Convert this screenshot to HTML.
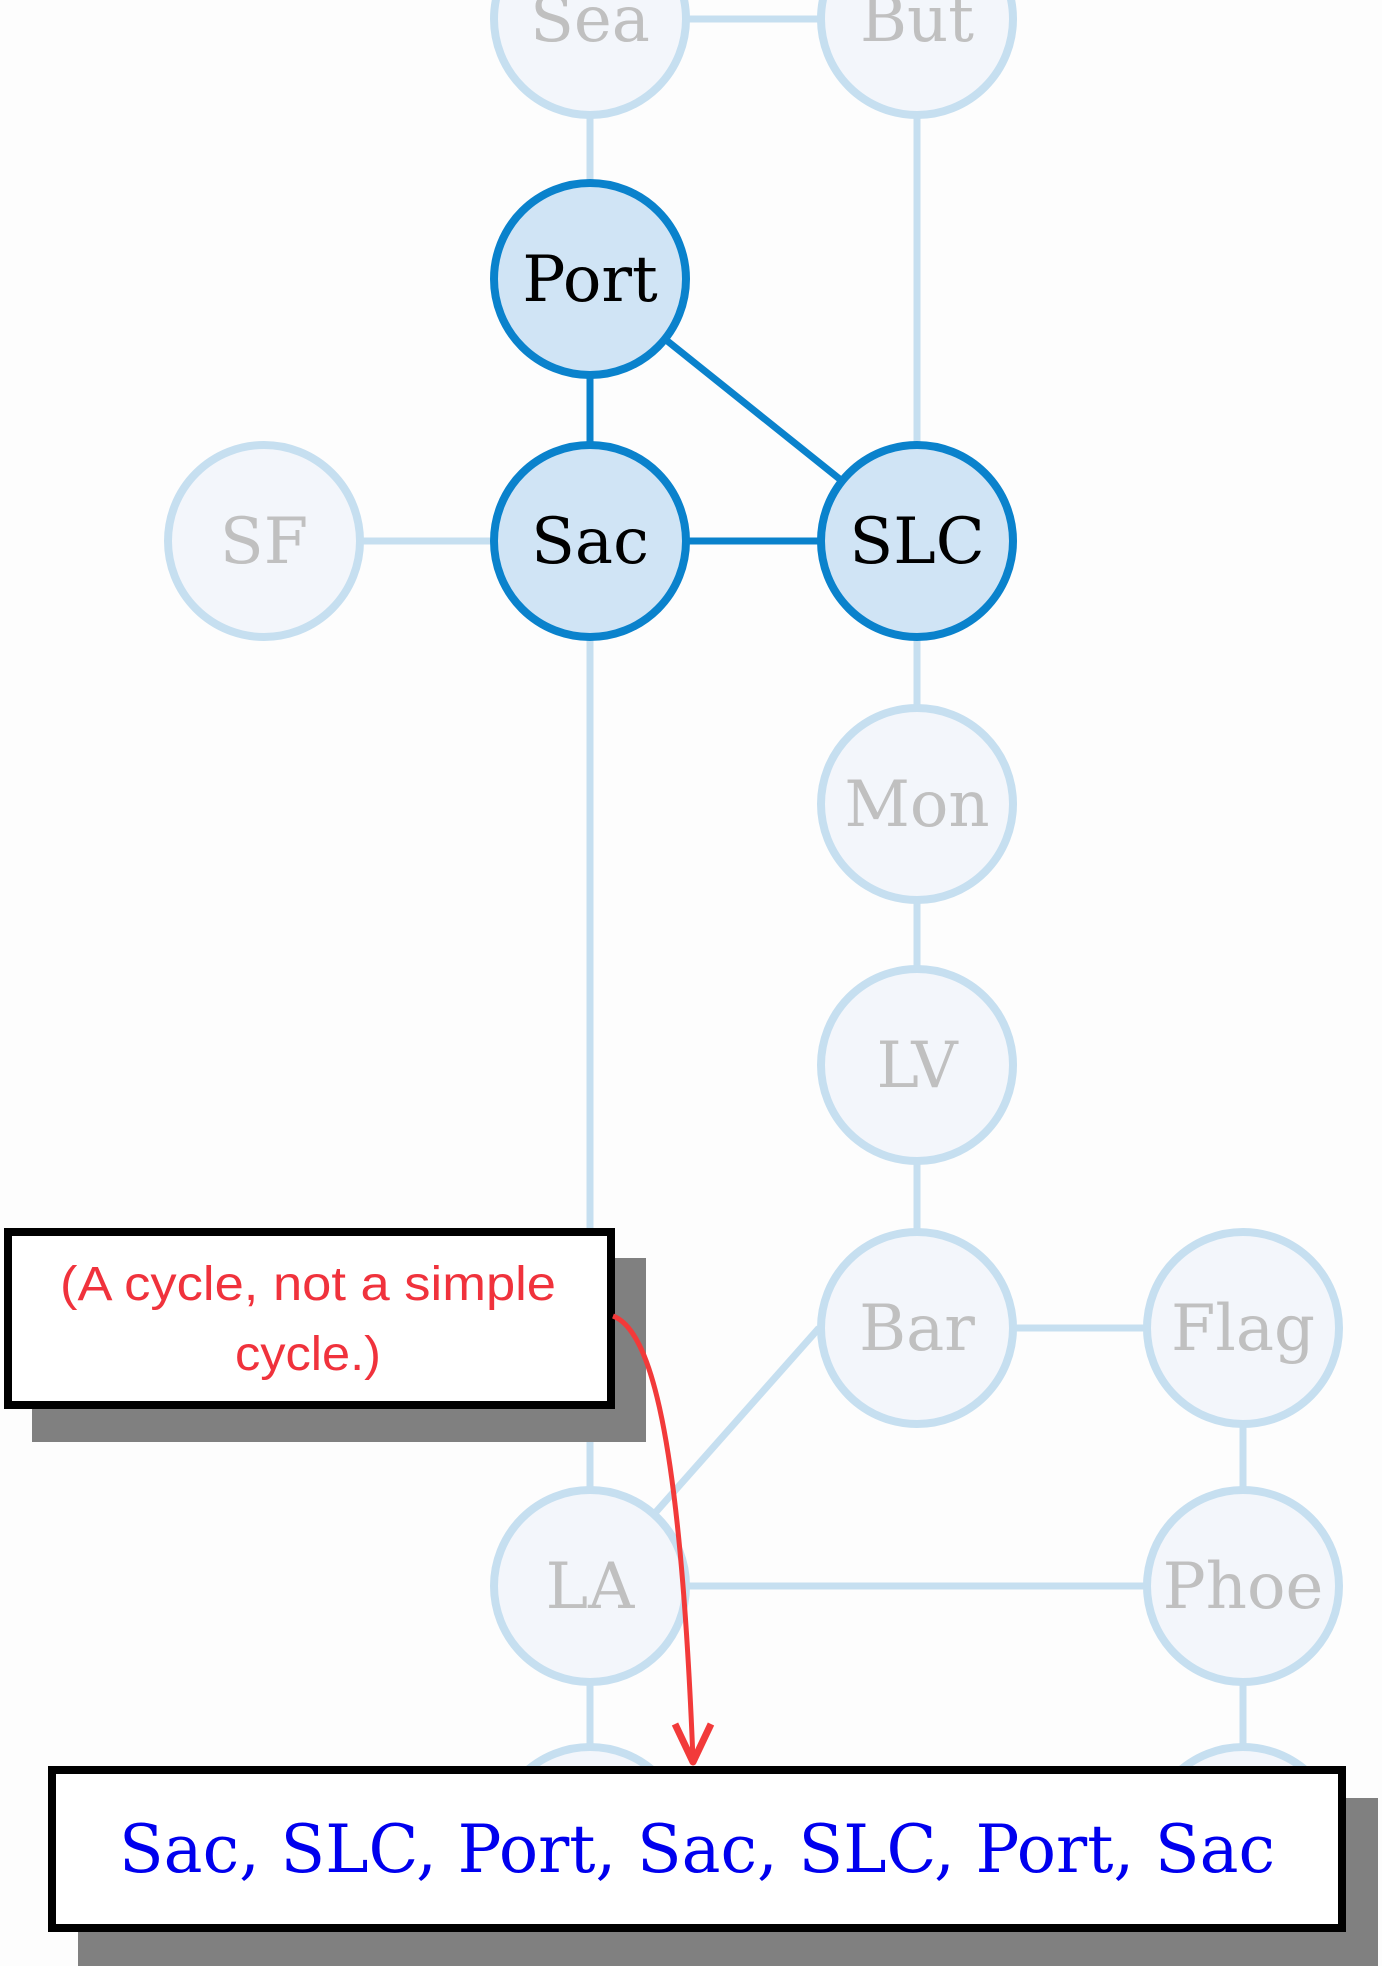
<!DOCTYPE html>
<html><head><meta charset="utf-8"><style>
html,body{margin:0;padding:0;background:#fdfdfd;}
svg{display:block;}
</style></head><body>
<svg width="1382" height="1966" viewBox="0 0 1382 1966" xmlns="http://www.w3.org/2000/svg">
<rect width="1382" height="1966" fill="#fdfdfd"/>
<g stroke="#c6dff0" stroke-width="7" fill="none">
<line x1="590" y1="19" x2="917" y2="19"/>
<line x1="590" y1="19" x2="590" y2="279"/>
<line x1="917" y1="19" x2="917" y2="541"/>
<line x1="264" y1="541" x2="590" y2="541"/>
<line x1="590" y1="541" x2="590" y2="1846"/>
<line x1="917" y1="541" x2="917" y2="1328"/>
<line x1="917" y1="1328" x2="1243" y2="1328"/>
<line x1="819" y1="1328" x2="640" y2="1530"/>
<line x1="590" y1="1586" x2="1243" y2="1586"/>
<line x1="1243" y1="1328" x2="1243" y2="1846"/>
</g>
<g stroke="#0a82cc" stroke-width="7">
<line x1="590" y1="279" x2="590" y2="541"/>
<line x1="590" y1="279" x2="917" y2="541"/>
<line x1="590" y1="541" x2="917" y2="541"/>
</g>
<g fill="#f3f6fb" stroke="#c6dff0" stroke-width="8">
<circle cx="590" cy="19" r="96"/><circle cx="917" cy="19" r="96"/>
<circle cx="264" cy="541" r="96"/>
<circle cx="917" cy="804" r="96"/><circle cx="917" cy="1065" r="96"/>
<circle cx="917" cy="1328" r="96"/><circle cx="1243" cy="1328" r="96"/>
<circle cx="590" cy="1586" r="96"/><circle cx="1243" cy="1586" r="96"/>
<circle cx="590" cy="1843" r="96"/><circle cx="1243" cy="1843" r="96"/>
</g>
<g fill="#d0e4f5" stroke="#0a82cc" stroke-width="8">
<circle cx="590" cy="279" r="96"/><circle cx="590" cy="541" r="96"/><circle cx="917" cy="541" r="96"/>
</g>
<g font-family="'DejaVu Serif',serif" font-size="64" text-anchor="middle" fill="#c0c0c0">
<text x="590" y="41">Sea</text><text x="917" y="41">But</text>
<text x="264" y="563">SF</text>
<text x="917" y="826">Mon</text><text x="917" y="1087">LV</text>
<text x="917" y="1350">Bar</text><text x="1243" y="1350">Flag</text>
<text x="590" y="1608">LA</text><text x="1243" y="1608">Phoe</text>
</g>
<g font-family="'DejaVu Serif',serif" font-size="64" text-anchor="middle" fill="#000">
<text x="590" y="301">Port</text><text x="590" y="563">Sac</text><text x="917" y="563">SLC</text>
</g>
<rect x="32" y="1258" width="614" height="184" fill="#808080"/>
<rect x="8" y="1232" width="603" height="173" fill="#fff" stroke="#000" stroke-width="8"/>
<g font-family="'Liberation Sans Narrow','Liberation Sans',sans-serif" font-size="48" fill="#f0323c" text-anchor="middle">
<text x="308" y="1300" textLength="496" lengthAdjust="spacingAndGlyphs">(A cycle, not a simple</text>
<text x="308" y="1370" textLength="146" lengthAdjust="spacingAndGlyphs">cycle.)</text>
</g>
<rect x="78" y="1798" width="1300" height="168" fill="#808080"/>
<rect x="52" y="1770" width="1290" height="158" fill="#fff" stroke="#000" stroke-width="8"/>
<text x="697" y="1872" font-family="'DejaVu Serif',serif" font-size="66" fill="#0000ee" text-anchor="middle" textLength="1156" lengthAdjust="spacingAndGlyphs">Sac, SLC, Port, Sac, SLC, Port, Sac</text>
<path d="M613,1316 C650,1330 680,1430 693,1760" fill="none" stroke="#f23a3a" stroke-width="5"/>
<path d="M675,1724 L693,1762 L711,1724" fill="none" stroke="#f23a3a" stroke-width="7" stroke-linejoin="round"/>
</svg>
</body></html>
